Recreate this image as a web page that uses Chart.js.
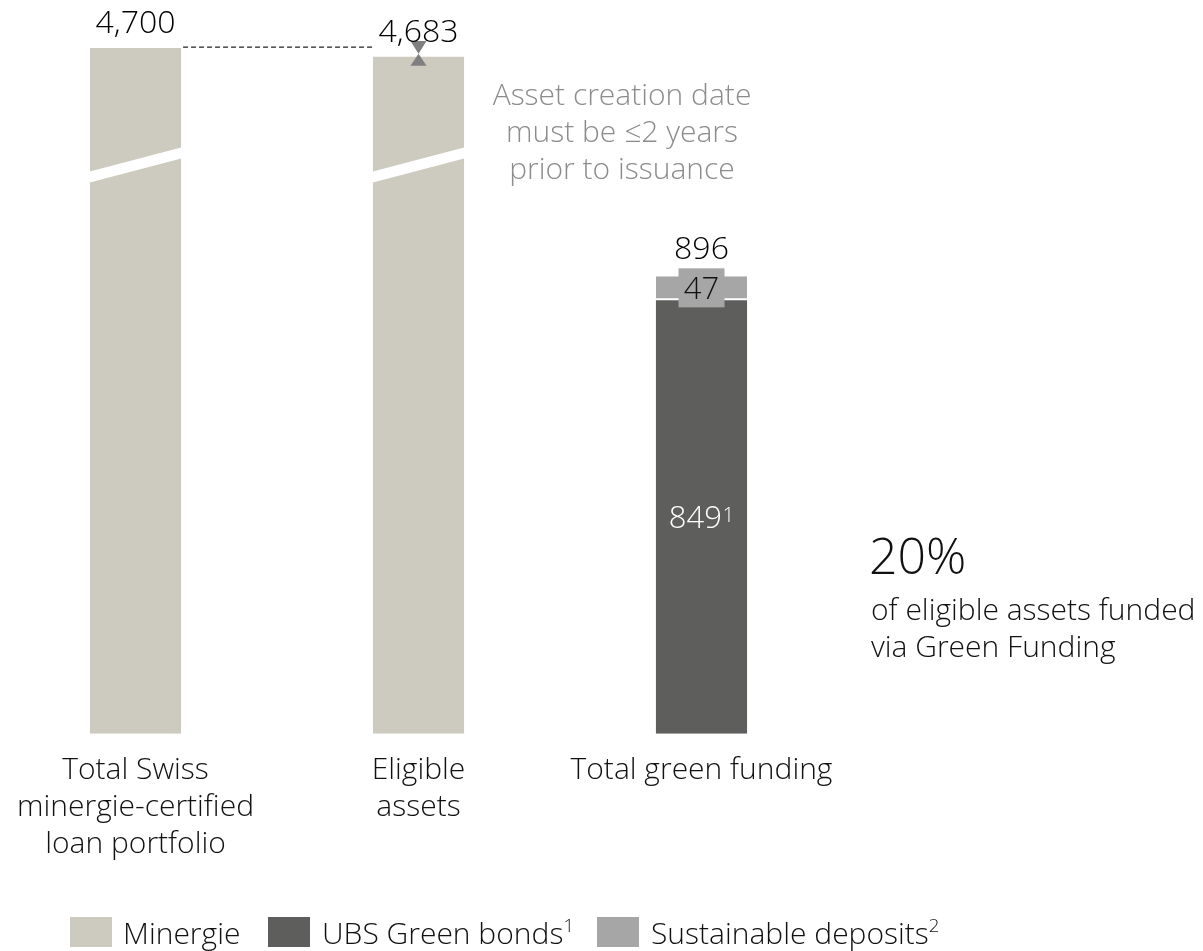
<!DOCTYPE html>
<html>
<head>
<meta charset="utf-8">
<script src="https://cdn.jsdelivr.net/npm/chart.js@4/dist/chart.umd.min.js"></script>
<style>
  body { margin: 0; background: #fff; font-family: "Open Sans", sans-serif; font-weight: 300; }
  #page { position: relative; width: 1203px; height: 951px; overflow: hidden; }
  #wrap { position: absolute; left: -6px; top: 0; width: 1209px; height: 951px; }
  .note { position: absolute; font-size: 30px; line-height: 37px; white-space: nowrap; }
  .sw { position: absolute; top: 917px; width: 42px; height: 30px; }
  .lt { position: absolute; top: 914px; font-size: 30px; line-height: 37px; color: #111; white-space: nowrap; }
  sup { font-size: 0.62em; line-height: 0; vertical-align: 0.62em; }
</style>
</head>
<body>
<div id="page">
  <div id="wrap"><canvas id="fundingChart"></canvas></div>

  <div class="note" style="left:482px; width:280px; top:75px; text-align:center; color:#8c8c8c;">
    Asset creation date<br>must be ≤2 years<br>prior to issuance
  </div>
  <div class="note" style="left:869px; top:527px; font-size:50px; line-height:56px; color:#111;">20%</div>
  <div class="note" style="left:871px; top:590px; color:#111;">of eligible assets funded<br>via Green Funding</div>

  <div class="sw" style="left:70px; background:#cdcbbf;"></div>
  <div class="lt" style="left:123px;">Minergie</div>
  <div class="sw" style="left:268px; background:#5e5f5d;"></div>
  <div class="lt" style="left:322px;">UBS Green bonds<sup>1</sup></div>
  <div class="sw" style="left:597px; background:#a6a6a6;"></div>
  <div class="lt" style="left:651px;">Sustainable deposits<sup>2</sup></div>
</div>

<script>
// data (CHF m)
const categories = [
  ['Total Swiss', 'minergie-certified', 'loan portfolio'],
  ['Eligible', 'assets'],
  ['Total green funding']
];
const minergie = [4700, 4683, null];
const greenBonds = [null, null, 849];
const sustainableDeposits = [null, null, 47];

// axis break: values between BREAK_LOW and BREAK_HIGH are cut out
const BREAK_LOW = 1114;
const BREAK_HIGH = 4471;

function squash(v) {
  if (v == null) return v;
  if (v <= BREAK_LOW) return v;
  if (v >= BREAK_HIGH) return v - (BREAK_HIGH - BREAK_LOW);
  return BREAK_LOW;
}

// linear scale with a cut in it
class BrokenScale extends Chart.LinearScale {
  getPixelForValue(value) {
    return super.getPixelForValue(squash(value));
  }
}
BrokenScale.id = 'broken';
BrokenScale.defaults = Chart.LinearScale.defaults;
Chart.register(BrokenScale);

const FONT = '"Open Sans", sans-serif';

// labels, break marks, dashed line
const extras = {
  id: 'extras',
  afterDatasetsDraw(chart) {
    const ctx = chart.ctx;
    const y = chart.scales.y;
    const m0 = chart.getDatasetMeta(0).data;
    const m1 = chart.getDatasetMeta(1).data;
    const m2 = chart.getDatasetMeta(2).data;
    ctx.save();

    // break band on the two tall bars
    const yb = y.getPixelForValue(BREAK_LOW);
    [0, 1].forEach(i => {
      const b = m0[i];
      const l = b.x - b.width / 2 - 1, r = b.x + b.width / 2 + 1;
      const dy = 12.3;
      ctx.fillStyle = '#fff';
      ctx.beginPath();
      ctx.moveTo(l, yb + dy - 5.5);
      ctx.lineTo(r, yb - dy - 5.5);
      ctx.lineTo(r, yb - dy + 5.5);
      ctx.lineTo(l, yb + dy + 5.5);
      ctx.closePath();
      ctx.fill();
    });

    // dashed line from first bar to the second
    const b0 = m0[0], b1 = m0[1];
    ctx.strokeStyle = '#222';
    ctx.lineWidth = 1.4;
    ctx.setLineDash([5, 3]);
    ctx.beginPath();
    ctx.moveTo(b0.x + b0.width / 2 + 2, b0.y - 1);
    ctx.lineTo(b1.x - b1.width / 2, b0.y - 1);
    ctx.stroke();
    ctx.setLineDash([]);

    // hourglass marker
    const mid = b1.y - 3;
    ctx.fillStyle = '#7f7f7f';
    ctx.beginPath();
    ctx.moveTo(b1.x - 8, b0.y - 7);
    ctx.lineTo(b1.x + 8, b0.y - 7);
    ctx.lineTo(b1.x, mid);
    ctx.closePath();
    ctx.fill();
    ctx.beginPath();
    ctx.moveTo(b1.x - 8, b1.y + 9);
    ctx.lineTo(b1.x + 8, b1.y + 9);
    ctx.lineTo(b1.x, mid);
    ctx.closePath();
    ctx.fill();

    // value labels on top
    ctx.font = '300 32px ' + FONT;
    ctx.fillStyle = '#000';
    ctx.textAlign = 'center';
    ctx.textBaseline = 'alphabetic';
    [0, 1].forEach(i => {
      const b = m0[i];
      ctx.fillText(minergie[i].toLocaleString('en-US'), b.x, b.y - 15);
    });
    const top = m2[2];
    const total = greenBonds[2] + sustainableDeposits[2];
    ctx.fillText(String(total), top.x, top.y - 17);

    // label box for the deposits segment
    ctx.fillStyle = '#a6a6a6';
    ctx.fillRect(top.x - 23, top.y - 8, 46, 39);
    ctx.fillStyle = '#111';
    ctx.font = '300 31px ' + FONT;
    ctx.fillText(String(sustainableDeposits[2]), top.x, top.y + 23);

    // green bonds label with footnote
    const gb = m1[2];
    const midY = (gb.y + gb.base) / 2;
    ctx.font = '300 31px ' + FONT;
    const main = String(greenBonds[2]);
    const wMain = ctx.measureText(main).width;
    ctx.font = '300 20px ' + FONT;
    const wSup = ctx.measureText('1').width;
    const x0 = gb.x - (wMain + wSup + 1) / 2;
    ctx.fillStyle = '#fff';
    ctx.textAlign = 'left';
    ctx.font = '300 31px ' + FONT;
    ctx.fillText(main, x0, midY + 11);
    ctx.font = '300 20px ' + FONT;
    ctx.fillText('1', x0 + wMain + 1, midY + 5);

    ctx.restore();
  }
};

new Chart(document.getElementById('fundingChart'), {
  type: 'bar',
  data: {
    labels: categories,
    datasets: [
      {
        label: 'Minergie',
        data: minergie,
        backgroundColor: '#cdcbbf'
      },
      {
        label: 'UBS Green bonds',
        data: greenBonds,
        backgroundColor: '#5e5f5d'
      },
      {
        label: 'Sustainable deposits',
        data: sustainableDeposits,
        backgroundColor: '#a6a6a6',
        borderColor: '#fff',
        borderWidth: { top: 0, left: 0, right: 0, bottom: 2 },
        borderSkipped: false
      }
    ]
  },
  options: {
    responsive: true,
    maintainAspectRatio: false,
    animation: false,
    layout: { padding: { top: 19, right: 360, bottom: 78, left: 0 } },
    barPercentage: 0.322,
    categoryPercentage: 1,
    plugins: {
      legend: { display: false },
      tooltip: { enabled: false }
    },
    scales: {
      x: {
        stacked: true,
        grid: { display: false },
        border: { display: false },
        ticks: {
          color: '#111',
          font: { family: FONT, size: 30, weight: 300, lineHeight: 1.235 },
          padding: 10,
          maxRotation: 0,
          autoSkip: false
        }
      },
      y: {
        type: 'broken',
        stacked: true,
        display: false,
        min: 0,
        max: 1400   // display units after the cut
      }
    }
  },
  plugins: [extras]
});
</script>
</body>
</html>
